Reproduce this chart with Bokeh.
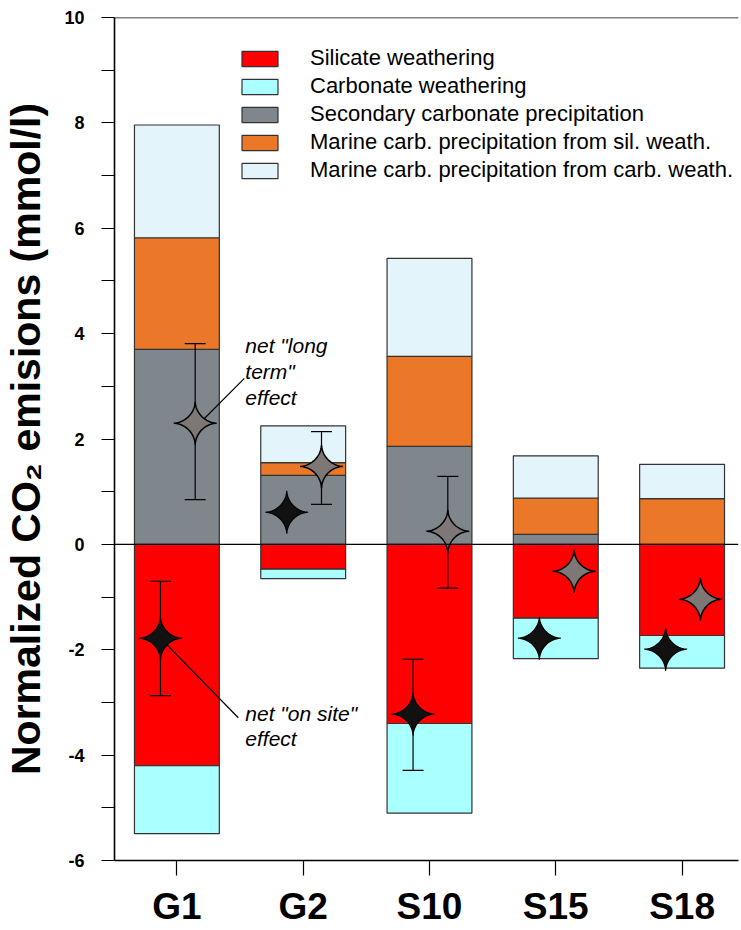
import numpy as np
from bokeh.plotting import figure
from bokeh.models import (Range1d, FixedTicker, Span, Legend, LegendItem,
                          ColumnDataSource)
from bokeh.embed import file_html
from bokeh.resources import INLINE
from bokeh.core.properties import value

# ---------------- data ----------------
cats = ["G1", "G2", "S10", "S15", "S18"]

silicate = [-4.20, -0.47, -3.40, -1.40, -1.73]
carbonate = [-1.29, -0.18, -1.70, -0.77, -0.62]
secondary = [3.70, 1.31, 1.86, 0.19, 0.0]
marine_sil = [2.12, 0.24, 1.71, 0.69, 0.87]
marine_carb = [2.14, 0.70, 1.86, 0.80, 0.65]

on_site = [-1.78, 0.61, -3.22, -1.78, -1.99]
on_site_hi = [-0.70, None, -2.18, None, None]
on_site_lo = [-2.87, None, -4.29, None, None]

long_term = [2.30, 1.48, 0.25, -0.51, -1.04]
long_term_hi = [3.81, 2.14, 1.29, None, None]
long_term_lo = [0.85, 0.76, -0.83, None, None]

series_labels = ["Silicate weathering",
                 "Carbonate weathering",
                 "Secondary carbonate precipitation",
                 "Marine carb. precipitation from sil. weath.",
                 "Marine carb. precipitation from carb. weath."]
series_colors = ["#FF0000", "#AAFFFF", "#7F868C", "#EB7728", "#E4F4FB"]

y_ticks = [-6, -4, -2, 0, 2, 4, 6, 8, 10]
y_tick_labels = ["-6", "-4", "-2", "0", "2", "4", "6", "8", "10"]
y_minor = [-5, -3, -1, 1, 3, 5, 7, 9]

# ---------------- layout ----------------
FONT = "Liberation Sans"
W, H = 741, 930
L, R, T, B = 113, 3, 17, 70
X0 = 0.506
Y0, Y1 = -6, 10
PX_PER_X = 126.5
X1 = X0 + (W - L - R) / PX_PER_X
sx = (W - L - R) / (X1 - X0)   # px per x unit
sy = (H - T - B) / (Y1 - Y0)   # px per y unit
BAR_W = 0.672
OFF_ON, OFF_LT = -0.13, 0.145

p = figure(width=W, height=H, x_range=Range1d(X0, X1), y_range=Range1d(Y0, Y1),
           output_backend="svg", toolbar_location=None,
           min_border_left=L, min_border_right=R, min_border_top=T,
           min_border_bottom=B)
p.outline_line_color = None
p.xgrid.visible = False
p.ygrid.visible = False
p.background_fill_color = "white"
p.border_fill_color = "white"

xs = np.arange(1, len(cats) + 1, dtype=float)

sil = np.array(silicate)
carb = np.array(carbonate)
sec = np.array(secondary)
msil = np.array(marine_sil)
mcarb = np.array(marine_carb)

outline = dict(line_color="#333333", line_width=1.2)
r_sil = p.vbar(x=xs, width=BAR_W, bottom=0, top=sil, fill_color=series_colors[0], **outline)
r_carb = p.vbar(x=xs, width=BAR_W, bottom=sil, top=sil + carb, fill_color=series_colors[1], **outline)
r_sec = p.vbar(x=xs, width=BAR_W, bottom=0, top=sec, fill_color=series_colors[2], **outline)
r_msil = p.vbar(x=xs, width=BAR_W, bottom=sec, top=sec + msil, fill_color=series_colors[3], **outline)
r_mcarb = p.vbar(x=xs, width=BAR_W, bottom=sec + msil, top=sec + msil + mcarb,
                 fill_color=series_colors[4], **outline)

p.add_layout(Span(location=0, dimension="width", line_color="black", line_width=1.2))
p.add_layout(Span(location=Y1, dimension="width", line_color="black", line_width=1.6))

# ---------------- error bars ----------------
def err_source(offset, hi, lo):
    ex, eh, el = [], [], []
    for x, h, l in zip(xs, hi, lo):
        if h is not None and l is not None:
            ex.append(x + offset); eh.append(h); el.append(l)
    return ColumnDataSource(dict(x=ex, hi=eh, lo=el))

for off, hi, lo in [(OFF_ON, on_site_hi, on_site_lo), (OFF_LT, long_term_hi, long_term_lo)]:
    src = err_source(off, hi, lo)
    p.segment(x0="x", y0="lo", x1="x", y1="hi", source=src, line_color="black", line_width=1.2)
    p.scatter(x="x", y="hi", source=src, marker="dash", size=21, line_color="black", line_width=1.2)
    p.scatter(x="x", y="lo", source=src, marker="dash", size=21, line_color="black", line_width=1.2)

# ---------------- annotation pointer lines ----------------
p.segment(x0=[1.21, 1 + OFF_ON], y0=[2.37, on_site[0]], x1=[1.534, 1.486], y1=[3.15, -3.29],
          line_color="black", line_width=1.2)

# ---------------- stars ----------------
def star(cx, cy, rpx=21.5, pw=3.4):
    t = np.linspace(0, 2 * np.pi, 121)
    c, s = np.cos(t), np.sin(t)
    px = np.sign(c) * np.abs(c) ** pw
    py = np.sign(s) * np.abs(s) ** pw
    return list(cx + px * rpx / sx), list(cy + py * rpx / sy)

def stars(offset, vals):
    sxs, sys = [], []
    for x, v in zip(xs, vals):
        a, b = star(x + offset, v)
        sxs.append(a); sys.append(b)
    return sxs, sys

lx, ly = stars(OFF_LT, long_term)
p.patches(xs=lx, ys=ly, fill_color="#7D7775", line_color="black", line_width=1.5)
ox, oy = stars(OFF_ON, on_site)
p.patches(xs=ox, ys=oy, fill_color="#111111", line_color="black", line_width=1.2)

# ---------------- annotation texts ----------------
p.text(x=[1.542] * 5,
       y=[3.77, 3.28, 2.79, -3.21, -3.68],
       text=['net "long', 'term"', 'effect', 'net "on site"', 'effect'],
       text_font=value(FONT), text_font_style="italic", text_font_size="21px",
       text_baseline="alphabetic", text_align="left", text_color="black")

# ---------------- legend ----------------
legend = Legend(items=[LegendItem(label=lab, renderers=[r]) for lab, r in
                       zip(series_labels, [r_sil, r_carb, r_sec, r_msil, r_mcarb])],
                location=(123, 677), border_line_color=None, background_fill_alpha=0,
                padding=0, margin=0, spacing=2, glyph_width=45, glyph_height=19,
                label_standoff=28, label_text_font=FONT, label_text_font_size="22px",
                label_text_color="black")
p.add_layout(legend)

# ---------------- axes ----------------
ya = p.yaxis[0]
ya.ticker = FixedTicker(ticks=y_ticks, minor_ticks=y_minor)
ya.major_label_overrides = {t: s for t, s in zip(y_ticks, y_tick_labels)}
ya.major_tick_out = 13
ya.major_tick_in = 0
ya.minor_tick_out = 13
ya.minor_tick_in = 0
ya.axis_line_width = 1.6
ya.major_tick_line_width = 1.2
ya.minor_tick_line_width = 1.2
ya.major_label_text_font = FONT
ya.major_label_text_font_style = "bold"
ya.major_label_text_font_size = "18px"
ya.major_label_text_color = "black"
ya.major_label_standoff = 17
ya.axis_label = "Normalized CO\u2082 emisions (mmol/l)"
ya.axis_label_text_font = FONT
ya.axis_label_text_font_style = "bold"
ya.axis_label_text_font_size = "41px"
ya.axis_label_text_color = "black"
ya.axis_label_standoff = 12

xa = p.xaxis[0]
xa.ticker = FixedTicker(ticks=list(xs))
xa.major_label_overrides = {float(x): c for x, c in zip(xs, cats)}
xa.major_tick_out = 15
xa.major_tick_in = 0
xa.minor_tick_out = 0
xa.axis_line_width = 1.6
xa.major_tick_line_width = 1.2
xa.major_label_text_font = FONT
xa.major_label_text_font_style = "bold"
xa.major_label_text_font_size = "37px"
xa.major_label_text_color = "black"
xa.major_label_standoff = 10

open("out.html", "w").write(file_html(p, INLINE))
